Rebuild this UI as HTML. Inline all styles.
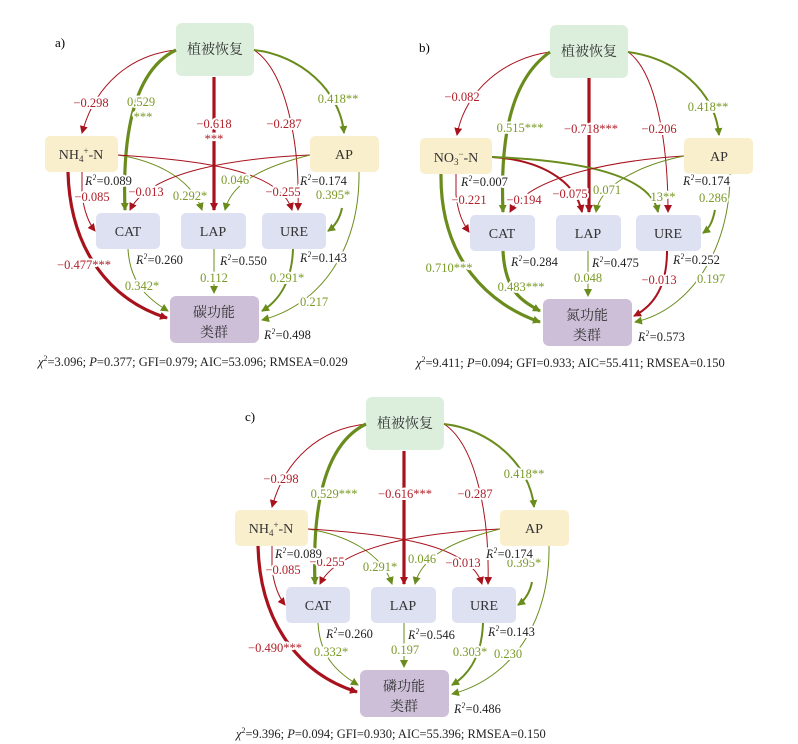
<!DOCTYPE html>
<html><head><meta charset="utf-8"><style>
html,body{margin:0;padding:0;background:#fff;}
svg{display:block;font-family:"Liberation Serif","Noto Serif CJK SC",serif;}
.r{fill:none;stroke:#a8121c;}
.g{fill:none;stroke:#6a8c1c;}
.t1{stroke-width:1;} .t2{stroke-width:2;} .t3{stroke-width:3.2;}
.lr{fill:#b0202a;font-size:12.5px;text-anchor:middle;}
.lg{fill:#7a9a28;font-size:12.5px;text-anchor:middle;}
.lk{fill:#222;font-size:12.5px;}
.halo{paint-order:stroke;stroke:#fff;stroke-width:4px;stroke-linejoin:round;}
.bx{font-size:14px;fill:#333;text-anchor:middle;}
</style></head><body>
<svg width="798" height="744" viewBox="0 0 798 744" xmlns="http://www.w3.org/2000/svg">
<defs>
<marker id="ar" markerWidth="10" markerHeight="10" refX="7" refY="4" orient="auto" markerUnits="userSpaceOnUse"><path d="M0,0 L8,4 L0,8 Z" fill="#a8121c"/></marker>
<marker id="ag" markerWidth="10" markerHeight="10" refX="7" refY="4" orient="auto" markerUnits="userSpaceOnUse"><path d="M0,0 L8,4 L0,8 Z" fill="#6a8c1c"/></marker>
<g id="boxesA">
<rect x="176" y="23" width="78" height="53" rx="6" fill="#dcefdc"/>
<rect x="45" y="136" width="73" height="36" rx="5" fill="#faefcc"/>
<rect x="310" y="136" width="69" height="36" rx="5" fill="#faefcc"/>
<rect x="96" y="213" width="64" height="36" rx="5" fill="#dde1f2"/>
<rect x="181" y="213" width="65" height="36" rx="5" fill="#dde1f2"/>
<rect x="262" y="213" width="64" height="36" rx="5" fill="#dde1f2"/>
<rect x="170" y="296" width="89" height="47" rx="6" fill="#cdbfd8"/>
</g>
<g id="linesA">
<path class="r t1" d="M176,50 C130,55 95,85 82,133" marker-end="url(#ar)"/>
<path class="g t3" d="M176,50 C135,70 122,130 125,210" marker-end="url(#ag)"/>
<path class="r t3" d="M214,77 L214,210" marker-end="url(#ar)"/>
<path class="r t1" d="M254,50 C285,70 300,140 298,210" marker-end="url(#ar)"/>
<path class="g t2" d="M254,50 C300,55 340,90 344,133" marker-end="url(#ag)"/>
<path class="r t1" d="M82,172 L82,195 C84,210 88,222 95,231" marker-end="url(#ar)"/>
<path class="r t3" d="M68,172 C70,250 110,300 167,318" marker-end="url(#ar)"/>
<path class="g t1" d="M118,155 C150,160 190,175 202,210" marker-end="url(#ag)"/>
<path class="r t1" d="M118,155 C200,160 280,170 292,210" marker-end="url(#ar)"/>
<path class="r t1" d="M310,155 C240,158 150,170 130,210" marker-end="url(#ar)"/>
<path class="g t1" d="M310,155 C270,165 232,180 225,210" marker-end="url(#ag)"/>
<path class="g t2" d="M342,208 C340,218 335,226 328,231" marker-end="url(#ag)"/>
<path class="g t1" d="M359,172 C360,250 320,305 262,320" marker-end="url(#ag)"/>
<path class="g t1" d="M128,249 C130,285 150,300 168,311" marker-end="url(#ag)"/>
<path class="g t1" d="M214,249 L214,293" marker-end="url(#ag)"/>
<path class="g t2" d="M293,249 C292,280 280,300 262,311" marker-end="url(#ag)"/>
</g>
</defs>

<!-- Panel a -->
<use href="#boxesA"/>
<use href="#linesA"/>
<text x="55" y="47" font-size="13">a)</text>
<text class="bx" x="215" y="54">植被恢复</text>
<text class="bx" x="81" y="159">NH<tspan font-size="9" dy="3">4</tspan><tspan font-size="9" dy="-8">+</tspan><tspan dy="5">-N</tspan></text>
<text class="bx" x="344" y="159">AP</text>
<text class="bx" x="128" y="236">CAT</text>
<text class="bx" x="213" y="236">LAP</text>
<text class="bx" x="294" y="236">URE</text>
<text class="bx" x="214" y="317">碳功能</text>
<text class="bx" x="214" y="337">类群</text>
<g class="halo">
<text class="lr" x="91" y="107">−0.298</text>
<text class="lg" x="141" y="106">0.529</text><text class="lg" x="143" y="121">***</text>
<text class="lr" x="214" y="128">−0.618</text><text class="lr" x="214" y="143">***</text>
<text class="lr" x="284" y="128">−0.287</text>
<text class="lg" x="338" y="103">0.418**</text>
<text class="lr" x="92" y="201">−0.085</text>
<text class="lr" x="146" y="196">−0.013</text>
<text class="lg" x="190" y="200">0.292*</text>
<text class="lg" x="235" y="184">0.046</text>
<text class="lr" x="283" y="196">−0.255</text>
<text class="lg" x="333" y="199">0.395*</text>
<text class="lr" x="84" y="269">−0.477***</text>
<text class="lg" x="142" y="290">0.342*</text>
<text class="lg" x="214" y="282">0.112</text>
<text class="lg" x="287" y="282">0.291*</text>
<text class="lg" x="314" y="306">0.217</text>
<text class="lk" x="85" y="185"><tspan font-style="italic">R</tspan><tspan font-size="8" dy="-5">2</tspan><tspan dy="5">=0.089</tspan></text>
<text class="lk" x="300" y="185"><tspan font-style="italic">R</tspan><tspan font-size="8" dy="-5">2</tspan><tspan dy="5">=0.174</tspan></text>
<text class="lk" x="136" y="264"><tspan font-style="italic">R</tspan><tspan font-size="8" dy="-5">2</tspan><tspan dy="5">=0.260</tspan></text>
<text class="lk" x="220" y="265"><tspan font-style="italic">R</tspan><tspan font-size="8" dy="-5">2</tspan><tspan dy="5">=0.550</tspan></text>
<text class="lk" x="300" y="262"><tspan font-style="italic">R</tspan><tspan font-size="8" dy="-5">2</tspan><tspan dy="5">=0.143</tspan></text>
<text class="lk" x="264" y="339"><tspan font-style="italic">R</tspan><tspan font-size="8" dy="-5">2</tspan><tspan dy="5">=0.498</tspan></text>
</g>
<text x="38" y="366" font-size="12.5" fill="#222"><tspan font-style="italic">χ</tspan><tspan font-size="8" dy="-5">2</tspan><tspan dy="5">=3.096; </tspan><tspan font-style="italic">P</tspan>=0.377; GFI=0.979; AIC=53.096; RMSEA=0.029</text>

<!-- Panel b -->
<rect x="550" y="25" width="78" height="53" rx="6" fill="#dcefdc"/>
<rect x="420" y="138" width="72" height="36" rx="5" fill="#faefcc"/>
<rect x="684" y="138" width="69" height="36" rx="5" fill="#faefcc"/>
<rect x="470" y="215" width="65" height="36" rx="5" fill="#dde1f2"/>
<rect x="556" y="215" width="65" height="36" rx="5" fill="#dde1f2"/>
<rect x="636" y="215" width="65" height="36" rx="5" fill="#dde1f2"/>
<rect x="543" y="299" width="89" height="47" rx="6" fill="#cdbfd8"/>
<path class="r t1" d="M550,52 C505,58 465,90 457,135" marker-end="url(#ar)"/>
<path class="g t3" d="M550,52 C510,80 500,140 503,212" marker-end="url(#ag)"/>
<path class="r t3" d="M589,78 L589,212" marker-end="url(#ar)"/>
<path class="r t1" d="M628,52 C655,70 668,140 668,212" marker-end="url(#ar)"/>
<path class="g t2" d="M628,52 C675,58 715,90 719,135" marker-end="url(#ag)"/>
<path class="r t1" d="M456,174 L456,195 C458,212 462,222 469,232" marker-end="url(#ar)"/>
<path class="g t3" d="M441,174 C440,260 490,305 540,322" marker-end="url(#ag)"/>
<path class="r t2" d="M492,157 C540,160 575,180 582,212" marker-end="url(#ar)"/>
<path class="g t2" d="M492,157 C570,160 650,172 658,212" marker-end="url(#ag)"/>
<path class="r t1" d="M684,156 C620,160 530,175 510,212" marker-end="url(#ar)"/>
<path class="g t1" d="M684,156 C640,165 600,185 596,212" marker-end="url(#ag)"/>
<path class="g t2" d="M715,210 C713,220 710,228 703,233" marker-end="url(#ag)"/>
<path class="g t1" d="M730,174 C730,250 690,310 635,322" marker-end="url(#ag)"/>
<path class="g t3" d="M503,251 C505,290 520,300 540,311" marker-end="url(#ag)"/>
<path class="g t1" d="M588,251 L588,296" marker-end="url(#ag)"/>
<path class="r t2" d="M667,251 C667,285 655,305 634,316" marker-end="url(#ar)"/>
<text x="419" y="52" font-size="13">b)</text>
<text class="bx" x="589" y="56">植被恢复</text>
<text class="bx" x="456" y="162">NO<tspan font-size="9" dy="3">3</tspan><tspan font-size="9" dy="-8">−</tspan><tspan dy="5">-N</tspan></text>
<text class="bx" x="719" y="161">AP</text>
<text class="bx" x="502" y="238">CAT</text>
<text class="bx" x="588" y="238">LAP</text>
<text class="bx" x="668" y="238">URE</text>
<text class="bx" x="587" y="320">氮功能</text>
<text class="bx" x="587" y="340">类群</text>
<g class="halo">
<text class="lr" x="462" y="101">−0.082</text>
<text class="lg" x="520" y="132">0.515***</text>
<text class="lr" x="591" y="133">−0.718***</text>
<text class="lr" x="659" y="133">−0.206</text>
<text class="lg" x="708" y="111">0.418**</text>
<text class="lr" x="469" y="204">−0.221</text>
<text class="lr" x="524" y="204">−0.194</text>
<text class="lr" x="570" y="198">−0.075</text>
<text class="lg" x="607" y="194">0.071</text>
<text class="lg" x="663" y="201">13**</text>
<text class="lg" x="713" y="202">0.286</text>
<text class="lg" x="449" y="272">0.710***</text>
<text class="lg" x="521" y="291">0.483***</text>
<text class="lg" x="588" y="282">0.048</text>
<text class="lr" x="659" y="284">−0.013</text>
<text class="lg" x="711" y="283">0.197</text>
<text class="lk" x="461" y="186"><tspan font-style="italic">R</tspan><tspan font-size="8" dy="-5">2</tspan><tspan dy="5">=0.007</tspan></text>
<text class="lk" x="683" y="185"><tspan font-style="italic">R</tspan><tspan font-size="8" dy="-5">2</tspan><tspan dy="5">=0.174</tspan></text>
<text class="lk" x="511" y="266"><tspan font-style="italic">R</tspan><tspan font-size="8" dy="-5">2</tspan><tspan dy="5">=0.284</tspan></text>
<text class="lk" x="592" y="267"><tspan font-style="italic">R</tspan><tspan font-size="8" dy="-5">2</tspan><tspan dy="5">=0.475</tspan></text>
<text class="lk" x="673" y="264"><tspan font-style="italic">R</tspan><tspan font-size="8" dy="-5">2</tspan><tspan dy="5">=0.252</tspan></text>
<text class="lk" x="638" y="341"><tspan font-style="italic">R</tspan><tspan font-size="8" dy="-5">2</tspan><tspan dy="5">=0.573</tspan></text>
</g>
<text x="416" y="367" font-size="12.5" fill="#222"><tspan font-style="italic">χ</tspan><tspan font-size="8" dy="-5">2</tspan><tspan dy="5">=9.411; </tspan><tspan font-style="italic">P</tspan>=0.094; GFI=0.933; AIC=55.411; RMSEA=0.150</text>

<!-- Panel c -->
<g transform="translate(190,374)">
<use href="#boxesA"/>
<use href="#linesA"/>
<text x="55" y="47" font-size="13">c)</text>
<text class="bx" x="215" y="54">植被恢复</text>
<text class="bx" x="81" y="159">NH<tspan font-size="9" dy="3">4</tspan><tspan font-size="9" dy="-8">+</tspan><tspan dy="5">-N</tspan></text>
<text class="bx" x="344" y="159">AP</text>
<text class="bx" x="128" y="236">CAT</text>
<text class="bx" x="213" y="236">LAP</text>
<text class="bx" x="294" y="236">URE</text>
<text class="bx" x="214" y="317">磷功能</text>
<text class="bx" x="214" y="337">类群</text>
<g class="halo">
<text class="lr" x="91" y="109">−0.298</text>
<text class="lg" x="144" y="124">0.529***</text>
<text class="lr" x="215" y="124">−0.616***</text>
<text class="lr" x="285" y="124">−0.287</text>
<text class="lg" x="334" y="104">0.418**</text>
<text class="lr" x="93" y="200">−0.085</text>
<text class="lr" x="137" y="192">−0.255</text>
<text class="lg" x="190" y="197">0.291*</text>
<text class="lg" x="232" y="189">0.046</text>
<text class="lr" x="273" y="193">−0.013</text>
<text class="lg" x="334" y="193">0.395*</text>
<text class="lr" x="85" y="278">−0.490***</text>
<text class="lg" x="141" y="282">0.332*</text>
<text class="lg" x="215" y="280">0.197</text>
<text class="lg" x="280" y="282">0.303*</text>
<text class="lg" x="318" y="284">0.230</text>
<text class="lk" x="85" y="184"><tspan font-style="italic">R</tspan><tspan font-size="8" dy="-5">2</tspan><tspan dy="5">=0.089</tspan></text>
<text class="lk" x="296" y="184"><tspan font-style="italic">R</tspan><tspan font-size="8" dy="-5">2</tspan><tspan dy="5">=0.174</tspan></text>
<text class="lk" x="136" y="264"><tspan font-style="italic">R</tspan><tspan font-size="8" dy="-5">2</tspan><tspan dy="5">=0.260</tspan></text>
<text class="lk" x="218" y="265"><tspan font-style="italic">R</tspan><tspan font-size="8" dy="-5">2</tspan><tspan dy="5">=0.546</tspan></text>
<text class="lk" x="298" y="262"><tspan font-style="italic">R</tspan><tspan font-size="8" dy="-5">2</tspan><tspan dy="5">=0.143</tspan></text>
<text class="lk" x="264" y="339"><tspan font-style="italic">R</tspan><tspan font-size="8" dy="-5">2</tspan><tspan dy="5">=0.486</tspan></text>
</g>
</g>
<text x="236" y="738" font-size="12.5" fill="#222"><tspan font-style="italic">χ</tspan><tspan font-size="8" dy="-5">2</tspan><tspan dy="5">=9.396; </tspan><tspan font-style="italic">P</tspan>=0.094; GFI=0.930; AIC=55.396; RMSEA=0.150</text>
</svg>
</body></html>
